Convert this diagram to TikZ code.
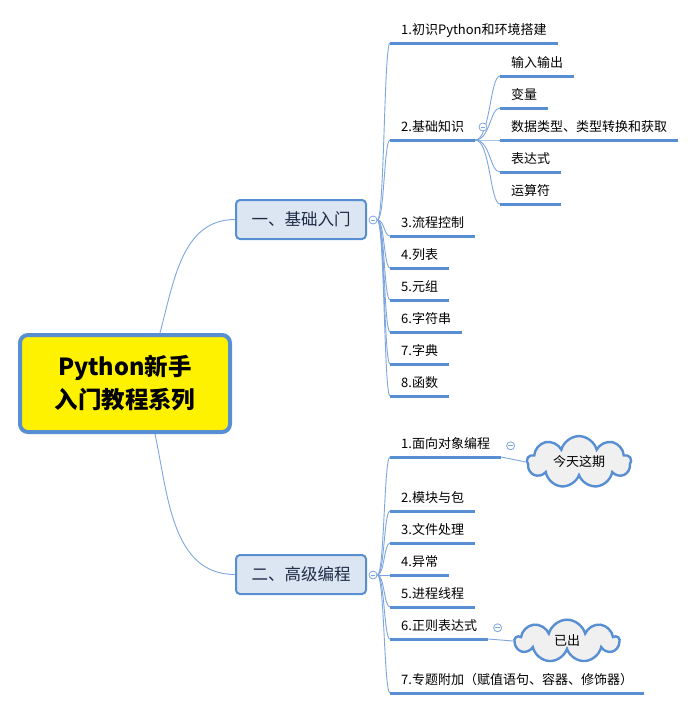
\documentclass[tikz,border=0pt]{standalone}
\usepackage{fontspec}
\setmainfont{Noto Sans CJK SC}
\usetikzlibrary{positioning,shapes.symbols}
\definecolor{mapblue}{RGB}{88,142,210}
\definecolor{mapline}{RGB}{125,165,222}
\definecolor{mapfill}{RGB}{220,230,242}
\definecolor{maptext}{RGB}{30,42,70}
\definecolor{cloudgray}{RGB}{240,240,240}
\tikzset{
  root/.style={draw=mapblue, line width=4pt, fill=yellow, rounded corners=8pt,
    minimum width=210pt, minimum height=97pt, align=center,
    font=\fontsize{23.5}{33}\selectfont\bfseries},
  maintopic/.style={draw=mapblue, line width=2pt, fill=mapfill, rounded corners=4pt,
    minimum width=130pt, minimum height=39pt, text=maptext,
    font=\fontsize{16.5}{18}\selectfont},
  subtopic/.style={anchor=south west, inner xsep=11pt, inner ysep=2pt,
    text height=12pt, text depth=6pt, font=\fontsize{13}{15}\selectfont},
  uline/.style={draw=mapblue, line width=3pt},
  branch/.style={draw=mapline, line width=0.9pt},
  fold/.style={circle, draw=mapline, fill=white, minimum size=8pt, inner sep=0pt,
    line width=0.8pt, path picture={\draw[mapline, line width=0.8pt]
      ([xshift=-2.2pt]path picture bounding box.center) --
      ([xshift=2.2pt]path picture bounding box.center);}},
  callout/.style={cloud, cloud puffs=9, aspect=2.6, draw=mapblue,
    line width=2.4pt, fill=cloudgray, minimum width=104pt, minimum height=38pt,
    font=\fontsize{13}{15}\selectfont}
}
\begin{document}
\begin{tikzpicture}[x=1pt,y=1pt]
\useasboundingbox (0,0) rectangle (696,-710);

% centre and main topics
\node[root] (root) at (125,-383.5) {Python新手\\入门教程系列};
\node[maintopic] (basic) at (301,-219.5) {一、基础入门};
\node[maintopic] (adv) at (301,-574.5) {二、高级编程};
\node[fold] (basicfold) at (373,-220) {};
\node[fold] (advfold) at (373,-575) {};
\draw[branch] ([xshift=35pt]root.north) to[out=75,in=180] (basic.west);
\draw[branch] ([xshift=30pt]root.south) to[out=-78,in=180] (adv.west);

% children of basic
\foreach \name/\y/\txt in {b1/43/1.初识Python和环境搭建, b2/140/2.基础知识,
    b3/236/3.流程控制, b4/268/4.列表, b5/300/5.元组, b6/332/6.字符串,
    b7/364/7.字典, b8/396/8.函数}
  \node[subtopic] (\name) at (390,-\y) {\txt};
\foreach \name in {b1,b2,b3,b4,b5,b6,b7,b8} {
  \draw[branch] (basicfold.east) .. controls +(7,0) and +(-6,0) .. (\name.south west);
  \draw[uline] (\name.south west) -- (\name.south east);
}

% children of 2.基础知识
\foreach \name/\y/\txt in {s1/76/输入输出, s2/108/变量, s3/140/数据类型、类型转换和获取,
    s4/172/表达式, s5/204/运算符}
  \node[subtopic] (\name) at (500,-\y) {\txt};
\foreach \name in {s1,s2,s3,s4,s5} {
  \draw[branch] (b2.south east) .. controls +(15,0) and +(-10,0) .. (\name.south west);
  \draw[uline] (\name.south west) -- (\name.south east);
}
\node[fold] (b2fold) at (483,-127) {};

% children of adv
\foreach \name/\y/\txt in {a1/457/1.面向对象编程, a2/511/2.模块与包, a3/543/3.文件处理,
    a4/575/4.异常, a5/607/5.进程线程, a6/639/6.正则表达式,
    a7/693/7.专题附加（赋值语句、容器、修饰器）}
  \node[subtopic] (\name) at (390,-\y) {\txt};
\foreach \name in {a1,a2,a3,a4,a5,a6,a7} {
  \draw[branch] (advfold.east) .. controls +(7,0) and +(-6,0) .. (\name.south west);
  \draw[uline] (\name.south west) -- (\name.south east);
}

% callouts
\node[fold, right=5pt of a1] (a1fold) {};
\node[fold, right=5pt of a6] (a6fold) {};
\node[callout] (today) at (579,-462) {今天这期};
\node[callout] (done) at (567,-641) {已出};
\draw[branch] (a1.south east) -- (today.west);
\draw[branch] (a6.south east) -- (done.west);
\end{tikzpicture}
\end{document}
